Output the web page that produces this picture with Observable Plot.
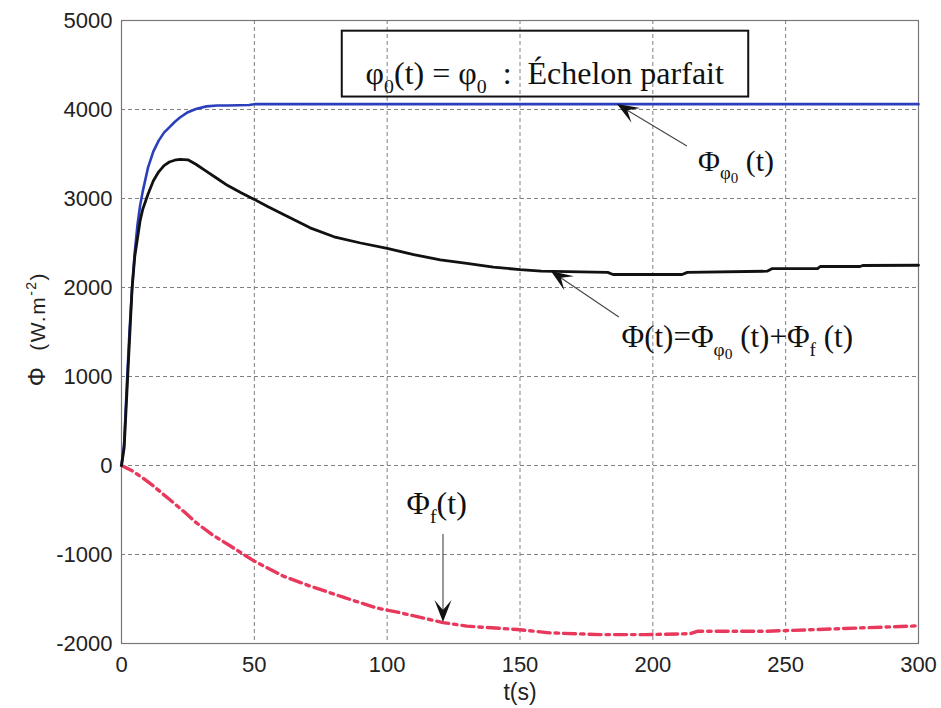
<!DOCTYPE html>
<html>
<head>
<meta charset="utf-8">
<script src="https://cdn.jsdelivr.net/npm/d3@7"></script>
<script src="https://cdn.jsdelivr.net/npm/@observablehq/plot@0.6"></script>
<style>
  html, body { margin: 0; padding: 0; background: #fff; }
  #chart { width: 941px; height: 708px; }
</style>
</head>
<body>
<div id="chart"></div>
<script>
// ---- Data ----
const xTicks = [0, 50, 100, 150, 200, 250, 300];
const yTicks = [-2000, -1000, 0, 1000, 2000, 3000, 4000, 5000];

// Φφ0(t) : perfect step response (blue)
const tPhi0 = [0, 1, 2, 3, 4, 5, 6, 7, 8, 10, 12, 14, 16, 18, 20, 22, 25, 28, 32, 36, 40, 48, 50, 100, 150, 200, 250, 300];
const vPhi0 = [0, 250, 900, 1500, 2000, 2400, 2700, 2920, 3080, 3350, 3530, 3650, 3740, 3800, 3860, 3910, 3970, 4005, 4035, 4045, 4045, 4050, 4060, 4060, 4060, 4060, 4060, 4060];

// Φ(t) = Φφ0(t) + Φf(t) (black)
const tPhi = [0, 1, 2, 3, 4, 5, 6, 7, 8, 10, 12, 14, 16, 18, 20, 22, 25, 28, 32, 36, 40, 45, 50, 55, 61, 71, 80, 90, 100, 110, 120, 130, 140, 150, 158, 183, 185, 211, 213, 243, 245, 262, 263, 278, 279, 300];
const vPhi = [0, 200, 800, 1400, 2000, 2350, 2550, 2750, 2880, 3050, 3200, 3300, 3370, 3410, 3430, 3440, 3435, 3385, 3305, 3225, 3145, 3065, 2990, 2910, 2820, 2670, 2570, 2500, 2440, 2370, 2310, 2270, 2230, 2200, 2183, 2170, 2146, 2146, 2170, 2183, 2213, 2213, 2236, 2236, 2247, 2250];

// Φf(t) (red, dash-dot)
const tPhiF = [0, 4, 8, 12, 18, 24, 28, 34, 41, 50, 61, 71, 84, 96, 105, 121, 130, 149, 161, 180, 197, 214, 217, 243, 262, 278, 297, 300];
const vPhiF = [0, -60, -140, -230, -380, -530, -640, -775, -905, -1075, -1245, -1355, -1485, -1600, -1655, -1765, -1805, -1843, -1880, -1900, -1900, -1890, -1862, -1862, -1843, -1825, -1805, -1800];

// Annotation texts (segments: normal / sub / subsub) anchored in data coordinates
const labels = [
  {t: 159.5, v: 4281, size: 32, anchor: "middle",
   parts: [["φ"], ["0", "sub"], ["(t) = φ"], ["0", "sub"], ["  :  Échelon parfait"]]},
  {t: 217.2, v: 3303, size: 30, anchor: "start",
   parts: [["Φ"], ["φ", "sub"], ["0", "subsub"], [" (t)"]]},
  {t: 188.4, v: 1326, size: 31, anchor: "start",
   parts: [["Φ(t)=Φ"], ["φ", "sub"], ["0", "subsub"], [" (t)+Φ"], ["f", "sub"], [" (t)"]]},
  {t: 107.5, v: -551, size: 32, anchor: "start",
   parts: [["Φ"], ["f", "sub"], ["(t)"]]}
];
// Arrows: from (t0,v0) to tip (t1,v1)
const arrows = [
  {t0: 213, v0: 3584, t1: 186.7, v1: 4056},
  {t0: 187.4, v0: 1663, t1: 161.8, v1: 2180},
  {t0: 121.2, v0: -775, t1: 121.2, v1: -1764}
];
// Title box corners
const titleBox = [{t1: 83.1, t2: 236.1, v1: 4140, v2: 4880}];

const rows = (ts, vs) => ts.map((t, i) => ({t, v: vs[i]}));
const dataPhi0 = rows(tPhi0, vPhi0);
const dataPhi = rows(tPhi, vPhi);
const dataPhiF = rows(tPhiF, vPhiF);

const NS = "http://www.w3.org/2000/svg";

function labelMark(index, scales) {
  const g = document.createElementNS(NS, "g");
  for (const L of labels) {
    const text = document.createElementNS(NS, "text");
    text.setAttribute("x", scales.x(L.t));
    text.setAttribute("y", scales.y(L.v));
    text.setAttribute("text-anchor", L.anchor);
    text.setAttribute("font-family", "'Liberation Serif', 'Times New Roman', serif");
    text.setAttribute("font-size", L.size);
    text.setAttribute("fill", "#111");
    text.style.whiteSpace = "pre";
    let shift = 0;
    for (const [s, kind] of L.parts) {
      const ts = document.createElementNS(NS, "tspan");
      let target = 0, fs = L.size;
      if (kind === "sub") { target = L.size * 0.28; fs = L.size * 0.62; }
      else if (kind === "subsub") { target = L.size * 0.40; fs = L.size * 0.5; }
      ts.setAttribute("font-size", fs);
      ts.setAttribute("dy", target - shift);
      shift = target;
      ts.textContent = s;
      text.appendChild(ts);
    }
    g.appendChild(text);
  }
  return g;
}

function arrowMark(index, scales) {
  const g = document.createElementNS(NS, "g");
  for (const A of arrows) {
    const x0 = scales.x(A.t0), y0 = scales.y(A.v0);
    const x1 = scales.x(A.t1), y1 = scales.y(A.v1);
    const dx = x1 - x0, dy = y1 - y0, len = Math.hypot(dx, dy);
    const ux = dx / len, uy = dy / len, px = -uy, py = ux;
    const Lh = 22, W = 8.5, N = 12;
    const bx = x1 - ux * Lh, by = y1 - uy * Lh;
    const nx = x1 - ux * N, ny = y1 - uy * N;
    const line = document.createElementNS(NS, "line");
    line.setAttribute("x1", x0); line.setAttribute("y1", y0);
    line.setAttribute("x2", nx); line.setAttribute("y2", ny);
    line.setAttribute("stroke", "#444"); line.setAttribute("stroke-width", 1.1);
    g.appendChild(line);
    const head = document.createElementNS(NS, "path");
    head.setAttribute("d", `M${x1},${y1}L${bx + px * W},${by + py * W}L${nx},${ny}L${bx - px * W},${by - py * W}Z`);
    head.setAttribute("fill", "#111");
    g.appendChild(head);
  }
  return g;
}

const fmt = d => String(d);

const plot = Plot.plot({
  width: 941,
  height: 708,
  marginLeft: 121,
  marginRight: 23,
  marginTop: 20,
  marginBottom: 65,
  style: {fontFamily: "'Liberation Sans', Arial, Helvetica, sans-serif", background: "#fff"},
  x: {domain: [0, 300]},
  y: {domain: [-2000, 5000]},
  marks: [
    Plot.gridX(xTicks, {stroke: "#808080", strokeOpacity: 1, strokeWidth: 1, strokeDasharray: "4,3"}),
    Plot.gridY(yTicks, {stroke: "#808080", strokeOpacity: 1, strokeWidth: 1, strokeDasharray: "4,3"}),
    Plot.frame({stroke: "#777", strokeWidth: 1.2}),
    Plot.axisX(xTicks, {tickSize: 0, tickPadding: 13, fontSize: 22, fill: "#222", label: null, tickFormat: fmt}),
    Plot.axisY(yTicks, {tickSize: 0, tickPadding: 9, fontSize: 22, fill: "#222", label: null, tickFormat: fmt}),
    Plot.rect(titleBox, {x1: "t1", x2: "t2", y1: "v1", y2: "v2", fill: "none", stroke: "#111", strokeWidth: 2}),
    Plot.line(dataPhiF, {x: "t", y: "v", stroke: "#e8385c", strokeWidth: 3.4, strokeDasharray: "12,5,3.5,5"}),
    Plot.line(dataPhi0, {x: "t", y: "v", stroke: "#2b3fbd", strokeWidth: 2.6}),
    Plot.line(dataPhi, {x: "t", y: "v", stroke: "#111", strokeWidth: 2.8}),
    arrowMark,
    labelMark
  ]
});

// Axis titles as real SVG text
const svg = d3.select(plot);
svg.append("text")
  .attr("x", 520).attr("y", 700)
  .attr("text-anchor", "middle")
  .attr("font-size", 23)
  .attr("fill", "#222")
  .text("t(s)");
const yl = svg.append("text")
  .attr("transform", "translate(45,329) rotate(-90)")
  .attr("text-anchor", "middle")
  .attr("font-size", 21)
  .attr("letter-spacing", 1.5)
  .attr("fill", "#222")
  .style("white-space", "pre");
yl.append("tspan").attr("font-size", 24).text("Φ");
yl.append("tspan").text("  (W.m");
yl.append("tspan").attr("dy", -9).attr("font-size", 14).text("-2");
yl.append("tspan").attr("dy", 9).text(")");

document.getElementById("chart").appendChild(plot);
</script>
</body>
</html>
